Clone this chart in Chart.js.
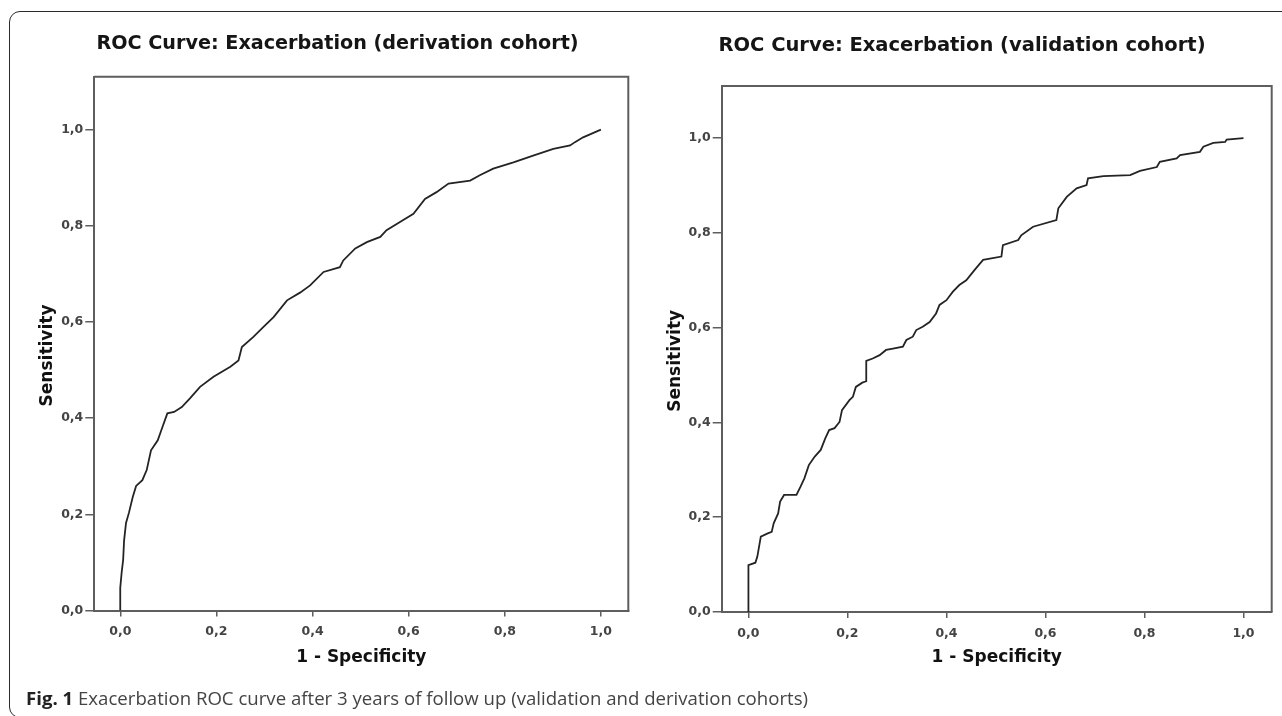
<!DOCTYPE html>
<html>
<head>
<meta charset="utf-8">
<title>ROC Curve: Exacerbation</title>
<script src="https://cdn.jsdelivr.net/npm/chart.js@4.4.1/dist/chart.umd.min.js"></script>
<style>
  html, body { margin: 0; padding: 0; background: #fff; }
  #page { position: relative; width: 1282px; height: 716px; overflow: hidden; background: #fff; }
  #frame {
    position: absolute; left: 9px; top: 11px; width: 1330px; height: 707px;
    box-sizing: border-box; border: 1.5px solid #2b2b2b; border-radius: 11px;
  }
  canvas { position: absolute; top: 0; }
  #chart-derivation { left: 10px; }
  #chart-validation { left: 642px; }
  #caption {
    position: absolute; left: 26px; top: 689px;
    font-family: 'Open Sans', 'Noto Sans', sans-serif; font-size: 18.5px; line-height: 18.5px;
    color: #444; white-space: nowrap; transform-origin: left center;
  }
  #caption b { color: #222; font-weight: 700; }
</style>
</head>
<body>
<div id="page">
  <div id="frame"></div>
  <canvas id="chart-derivation" width="655" height="716"></canvas>
  <canvas id="chart-validation" width="640" height="716"></canvas>
  <div id="caption"><b>Fig. 1</b> Exacerbation ROC curve after 3 years of follow up (validation and derivation cohorts)</div>
</div>
<script>
// --- データ ---
const tickValues = [0, 0.2, 0.4, 0.6, 0.8, 1.0];
const tickLabels = ['0,0', '0,2', '0,4', '0,6', '0,8', '1,0'];

// derivation cohort: 1 - specificity / sensitivity
const derivFpr = [0, 0, 0.003, 0.006, 0.008, 0.012, 0.018, 0.026, 0.033, 0.046, 0.055, 0.064, 0.078, 0.088,
  0.098, 0.112, 0.128, 0.145, 0.166, 0.194, 0.229, 0.246, 0.253, 0.277, 0.298, 0.319, 0.347, 0.374,
  0.395, 0.423, 0.457, 0.464, 0.489, 0.513, 0.541, 0.554, 0.582, 0.610, 0.634, 0.658, 0.683, 0.728,
  0.748, 0.776, 0.818, 0.859, 0.901, 0.936, 0.946, 0.963, 1.000];
const derivTpr = [0, 0.047, 0.080, 0.105, 0.146, 0.182, 0.203, 0.236, 0.259, 0.271, 0.292, 0.333, 0.354, 0.382,
  0.410, 0.413, 0.423, 0.441, 0.465, 0.486, 0.507, 0.520, 0.548, 0.569, 0.590, 0.610, 0.645, 0.661,
  0.676, 0.704, 0.714, 0.728, 0.753, 0.766, 0.777, 0.791, 0.808, 0.825, 0.856, 0.870, 0.888, 0.894,
  0.905, 0.919, 0.932, 0.946, 0.960, 0.967, 0.974, 0.984, 1.000];

// validation cohort
const validFpr = [0, 0, 0.014, 0.018, 0.025, 0.039, 0.047, 0.051, 0.060, 0.064, 0.072, 0.097, 0.105, 0.113,
  0.122, 0.134, 0.146, 0.155, 0.163, 0.174, 0.184, 0.189, 0.204, 0.211, 0.217, 0.230, 0.238, 0.238,
  0.251, 0.265, 0.278, 0.292, 0.312, 0.319, 0.332, 0.339, 0.352, 0.366, 0.379, 0.386, 0.400, 0.413,
  0.426, 0.440, 0.457, 0.474, 0.511, 0.514, 0.545, 0.551, 0.575, 0.622, 0.626, 0.643, 0.663, 0.683,
  0.686, 0.717, 0.771, 0.791, 0.825, 0.831, 0.865, 0.872, 0.912, 0.919, 0.939, 0.963, 0.966, 1.000];
const validTpr = [0, 0.099, 0.104, 0.117, 0.159, 0.166, 0.169, 0.187, 0.208, 0.233, 0.247, 0.247, 0.264, 0.282,
  0.310, 0.328, 0.342, 0.366, 0.384, 0.388, 0.401, 0.426, 0.447, 0.454, 0.475, 0.484, 0.487, 0.530,
  0.535, 0.542, 0.553, 0.556, 0.560, 0.574, 0.581, 0.595, 0.602, 0.612, 0.630, 0.648, 0.658, 0.676,
  0.690, 0.700, 0.722, 0.743, 0.750, 0.774, 0.785, 0.795, 0.813, 0.827, 0.852, 0.876, 0.894, 0.901,
  0.915, 0.920, 0.922, 0.931, 0.939, 0.950, 0.957, 0.964, 0.971, 0.982, 0.990, 0.992, 0.997, 1.000];

// --- 共通スタイル ---
const FONT = "'DejaVu Sans', 'Liberation Sans', sans-serif";
const AXIS_COLOR = '#5e5e5e';
const X_MIN = -0.054, X_MAX = 1.057;
const Y_MIN = 0, Y_MAX = 1.11;

// プロット枠の上辺と右辺
const plotFrame = {
  id: 'plotFrame',
  afterDraw(chart) {
    const { ctx, chartArea: a } = chart;
    ctx.save();
    ctx.strokeStyle = AXIS_COLOR;
    ctx.lineWidth = 2;
    ctx.beginPath();
    ctx.moveTo(a.left, a.top);
    ctx.lineTo(a.right, a.top);
    ctx.lineTo(a.right, a.bottom);
    ctx.stroke();
    ctx.restore();
  }
};

function makeRocChart(canvasId, titleText, fpr, tpr, g) {
  const points = fpr.map((x, i) => ({ x, y: tpr[i] }));
  const tickFont = { family: FONT, size: 12.5, weight: 'bold' };
  const axisTitleFont = { family: FONT, size: 17, weight: 'bold' };

  return new Chart(document.getElementById(canvasId), {
    type: 'scatter',
    data: {
      datasets: [{
        data: points,
        showLine: true,
        borderColor: '#242424',
        borderWidth: 1.8,
        pointRadius: 0,
        tension: 0,
        fill: false
      }]
    },
    options: {
      responsive: false,
      animation: false,
      layout: { padding: 0 },
      plugins: {
        legend: { display: false },
        tooltip: { enabled: false },
        title: {
          display: true,
          text: titleText,
          color: '#151515',
          font: { family: FONT, size: g.titleSize, weight: 'bold' },
          padding: { top: g.titleTop, bottom: g.titleBottom }
        }
      },
      scales: {
        x: {
          type: 'linear',
          min: X_MIN,
          max: X_MAX,
          afterBuildTicks: s => { s.ticks = tickValues.map(v => ({ value: v })); },
          afterFit: s => { s.height = g.xAxisHeight; },
          ticks: { callback: (v, i) => tickLabels[i], color: '#444', font: tickFont, padding: 8, maxRotation: 0, autoSkip: false },
          grid: { drawOnChartArea: false, drawTicks: true, tickLength: 6, color: AXIS_COLOR, lineWidth: 1.5 },
          border: { display: true, color: AXIS_COLOR, width: 2 },
          title: { display: true, text: '1 - Specificity', color: '#111', font: axisTitleFont, padding: { top: 0, bottom: 47.8 } }
        },
        y: {
          type: 'linear',
          min: Y_MIN,
          max: Y_MAX,
          afterBuildTicks: s => { s.ticks = tickValues.map(v => ({ value: v })); },
          afterFit: s => { s.width = g.yAxisWidth; },
          ticks: { callback: (v, i) => tickLabels[i], color: '#444', font: tickFont, padding: 2, autoSkip: false },
          grid: { drawOnChartArea: false, drawTicks: true, tickLength: 9, color: AXIS_COLOR, lineWidth: 1.5 },
          border: { display: true, color: AXIS_COLOR, width: 2 },
          // 末尾の空白でラベル中心を少し下げる
          title: { display: true, text: 'Sensitivity    ', color: '#111', font: axisTitleFont, padding: { top: g.yTitlePad, bottom: 0 } }
        },
        // 右側の余白 (タイトルを元図の位置に中央寄せするため)
        yPad: {
          type: 'linear',
          position: 'right',
          afterFit: s => { s.width = g.rightPad; },
          ticks: { display: false },
          grid: { display: false, drawTicks: false },
          border: { display: false }
        }
      }
    },
    plugins: [plotFrame]
  });
}

makeRocChart('chart-derivation', 'ROC Curve: Exacerbation (derivation cohort)', derivFpr, derivTpr, {
  titleSize: 19.2, titleTop: 32, titleBottom: 21.7,
  xAxisHeight: 105.5, yAxisWidth: 84.3, yTitlePad: 27.8, rightPad: 36.7
});

makeRocChart('chart-validation', 'ROC Curve: Exacerbation (validation cohort)', validFpr, validTpr, {
  titleSize: 19.5, titleTop: 34, titleBottom: 28.6,
  xAxisHeight: 104, yAxisWidth: 79.7, yTitlePad: 23.8, rightPad: 10.3
});

// キャプション幅を元図に合わせる
const caption = document.getElementById('caption');
const capWidth = caption.getBoundingClientRect().width;
caption.style.transform = `scaleX(${782 / capWidth})`;
</script>
</body>
</html>
